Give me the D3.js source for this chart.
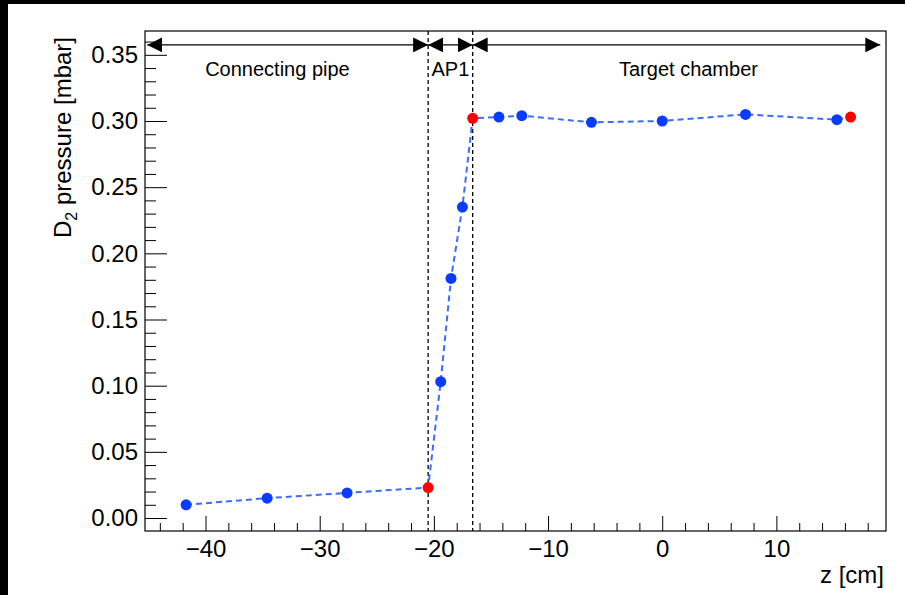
<!DOCTYPE html>
<html>
<head>
<meta charset="utf-8">
<script src="https://cdn.jsdelivr.net/npm/d3@7"></script>
<style>
  body { margin: 0; background: #fff; }
  svg { display: block; font-family: "Liberation Sans", Arial, Helvetica, sans-serif; }
</style>
</head>
<body>
<div id="graph"></div>
<script>
// measured positions along the beam axis [cm]
var zPos = [-41.7, -34.6, -27.6, -20.5, -19.4, -18.5, -17.5, -16.6, -14.3, -12.3, -6.2, 0.0, 7.3, 15.3, 16.5];
// D2 pressure [mbar]
var pressure = [0.010, 0.015, 0.019, 0.023, 0.103, 0.181, 0.235, 0.302, 0.303, 0.304, 0.299, 0.300, 0.305, 0.301, 0.303];
// 1 = red marker
var redPoint = [0, 0, 0, 1, 0, 0, 0, 1, 0, 0, 0, 0, 0, 0, 1];

// regions shown with arrows on top
var regionNames = ["Connecting pipe", "AP1", "Target chamber"];
var regionEdges = [-45.1, -20.5, -16.6, 19.1];
var regionLabelZ = [-33.7, -18.55, 2.3];
var dividerZ = [-20.5, -16.6];
var arrowLevel = 0.3575;

var xTicks = [-40, -30, -20, -10, 0, 10];
var yTicks = [0.00, 0.05, 0.10, 0.15, 0.20, 0.25, 0.30, 0.35];

var W = 905, H = 595;
var margin = {top: 31, right: 19, bottom: 64, left: 145},
    width = W - margin.left - margin.right,
    height = H - margin.top - margin.bottom;

var root = d3.select("#graph").append("svg")
  .attr("width", W)
  .attr("height", H);

var svg = root.append("g")
  .attr("transform", "translate(" + margin.left + "," + margin.top + ")");

var x = d3.scaleLinear().domain([-45.3, 19.6]).range([0, width]);
var y = d3.scaleLinear().domain([-0.0098, 0.368]).range([height, 0]);

// minor ticks
var xMinor = d3.range(-44, 20, 2).filter(function(v){ return xTicks.indexOf(v) < 0; });
var yMinor = d3.range(0, 0.37, 0.01).map(function(v){ return +v.toFixed(2); })
  .filter(function(v){ return yTicks.indexOf(v) < 0; });

var xAxis = d3.axisBottom(x).tickValues(xTicks).tickSizeInner(-15).tickSizeOuter(0)
  .tickPadding(9).tickFormat(function(d){ return d < 0 ? "\u2212" + Math.abs(d) : d; });
var xAxisMinor = d3.axisBottom(x).tickValues(xMinor).tickSizeInner(-8).tickSizeOuter(0).tickFormat("");
var yAxis = d3.axisLeft(y).tickValues(yTicks).tickSizeInner(-22).tickSizeOuter(0)
  .tickPadding(7).tickFormat(d3.format(".2f"));
var yAxisMinor = d3.axisLeft(y).tickValues(yMinor).tickSizeInner(-11).tickSizeOuter(0).tickFormat("");

svg.append("g").attr("transform", "translate(0," + height + ")").call(xAxisMinor);
svg.append("g").attr("class", "xAxis").attr("transform", "translate(0," + height + ")").call(xAxis);
svg.append("g").call(yAxisMinor);
svg.append("g").attr("class", "yAxis").call(yAxis);

svg.selectAll(".domain").remove();
svg.selectAll(".tick line").attr("stroke", "#000").attr("stroke-width", 1);
svg.selectAll(".tick text").attr("fill", "#000").attr("font-size", 24)
  .attr("font-family", "Liberation Sans, Arial, sans-serif");
svg.selectAll(".xAxis .tick text").attr("dy", "0.71em");

// frame
svg.append("rect")
  .attr("width", width)
  .attr("height", height)
  .attr("fill", "none")
  .attr("stroke", "#000")
  .attr("stroke-width", 1.2);

// vertical dashed dividers
svg.selectAll(".divider").data(dividerZ).enter().append("line")
  .attr("class", "divider")
  .attr("x1", function(d){ return x(d); })
  .attr("x2", function(d){ return x(d); })
  .attr("y1", 0)
  .attr("y2", height)
  .attr("stroke", "#000")
  .attr("stroke-width", 1.3)
  .attr("stroke-dasharray", "4,3");

// region arrows
var defs = root.append("defs");
defs.append("marker")
  .attr("id", "head")
  .attr("viewBox", "0 0 15 15")
  .attr("refX", 15).attr("refY", 7.5)
  .attr("markerWidth", 15).attr("markerHeight", 15)
  .attr("markerUnits", "userSpaceOnUse")
  .attr("orient", "auto-start-reverse")
  .append("path").attr("d", "M0,0 L15,7.5 L0,15 Z").attr("fill", "#000");

var regions = regionNames.map(function(name, i){
  return {name: name, z0: regionEdges[i], z1: regionEdges[i + 1], zl: regionLabelZ[i]};
});

svg.selectAll(".region").data(regions).enter().append("line")
  .attr("class", "region")
  .attr("x1", function(d){ return x(d.z0); })
  .attr("x2", function(d){ return x(d.z1); })
  .attr("y1", y(arrowLevel))
  .attr("y2", y(arrowLevel))
  .attr("stroke", "#000")
  .attr("stroke-width", 1.3)
  .attr("marker-start", "url(#head)")
  .attr("marker-end", "url(#head)");

svg.selectAll(".regionLabel").data(regions).enter().append("text")
  .attr("class", "regionLabel")
  .attr("x", function(d){ return x(d.zl); })
  .attr("y", y(arrowLevel) + 31)
  .attr("text-anchor", "middle")
  .attr("font-size", 20)
  .attr("fill", "#000")
  .text(function(d){ return d.name; });

// data
var points = zPos.map(function(z, i){ return {z: z, p: pressure[i], red: redPoint[i]}; });

svg.append("path")
  .datum(points)
  .attr("d", d3.line().x(function(d){ return x(d.z); }).y(function(d){ return y(d.p); }))
  .attr("fill", "none")
  .attr("stroke", "#3d6bff")
  .attr("stroke-width", 2)
  .attr("stroke-dasharray", "6,4");

svg.selectAll(".pt").data(points.filter(function(d){ return !d.red; })).enter().append("circle")
  .attr("class", "pt")
  .attr("cx", function(d){ return x(d.z); })
  .attr("cy", function(d){ return y(d.p); })
  .attr("r", 5.5)
  .attr("fill", "#0a3cff");

svg.selectAll(".ptRed").data(points.filter(function(d){ return d.red; })).enter().append("circle")
  .attr("class", "ptRed")
  .attr("cx", function(d){ return x(d.z); })
  .attr("cy", function(d){ return y(d.p); })
  .attr("r", 5.5)
  .attr("fill", "#ff0000");

// axis titles
root.append("text")
  .attr("transform", "translate(71,37) rotate(-90)")
  .attr("text-anchor", "end")
  .attr("font-size", 24)
  .attr("fill", "#000")
  .call(function(t){
    t.append("tspan").text("D");
    t.append("tspan").attr("font-size", 16).attr("dy", 6).text("2");
    t.append("tspan").attr("dy", -6).text(" pressure [mbar]");
  });

root.append("text")
  .attr("x", 884)
  .attr("y", 583)
  .attr("text-anchor", "end")
  .attr("font-size", 24)
  .attr("fill", "#000")
  .text("z [cm]");

// dark strips at the picture edge
root.append("rect").attr("x", 0).attr("y", 0).attr("width", W).attr("height", 4).attr("fill", "#000");
root.append("rect").attr("x", 0).attr("y", 0).attr("width", 8).attr("height", H).attr("fill", "#000");
</script>
</body>
</html>
